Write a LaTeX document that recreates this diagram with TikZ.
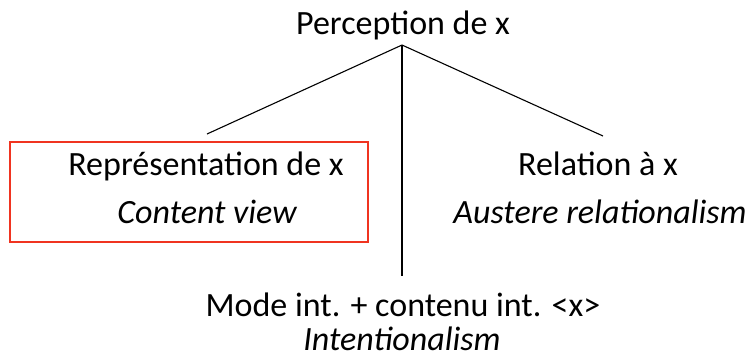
\documentclass[tikz,border=0pt]{standalone}
\usepackage{fontspec}
\setmainfont{Carlito}
\definecolor{boxred}{RGB}{240,52,32}
\begin{document}
\begin{tikzpicture}[x=1pt,y=-1pt,
  lbl/.style={anchor=base,inner sep=0pt,font=\fontsize{34}{39}\selectfont},
  conn/.style={line width=1.1pt,black}]
\useasboundingbox (0,0) rectangle (752,360);
\node[lbl] (top) at (403,34) {Perception de x};
\coordinate (apex) at (402,45);
\coordinate (lend) at (207,134);
\coordinate (rend) at (603,136);
\coordinate (dend) at (402,276);
\draw[conn] (apex) -- (lend);
\draw[conn] (apex) -- (rend);
\draw[conn] (apex) -- (dend);
\node[draw=boxred,line width=2.5pt,minimum width=358pt,minimum height=100pt,inner sep=0pt] (box) at (189,192) {};
\node[lbl] (rep) at (206,175) {Représentation de x};
\node[lbl] (cv) at (207,223) {\itshape Content view};
\node[lbl] (rel) at (598,175) {Relation à x};
\node[lbl] (aus) at (600,223) {\itshape Austere relationalism};
\node[lbl] (mode) at (403,316) {Mode int. + contenu int. <x>};
\node[lbl] (int) at (402,350) {\itshape Intentionalism};
\end{tikzpicture}
\end{document}
